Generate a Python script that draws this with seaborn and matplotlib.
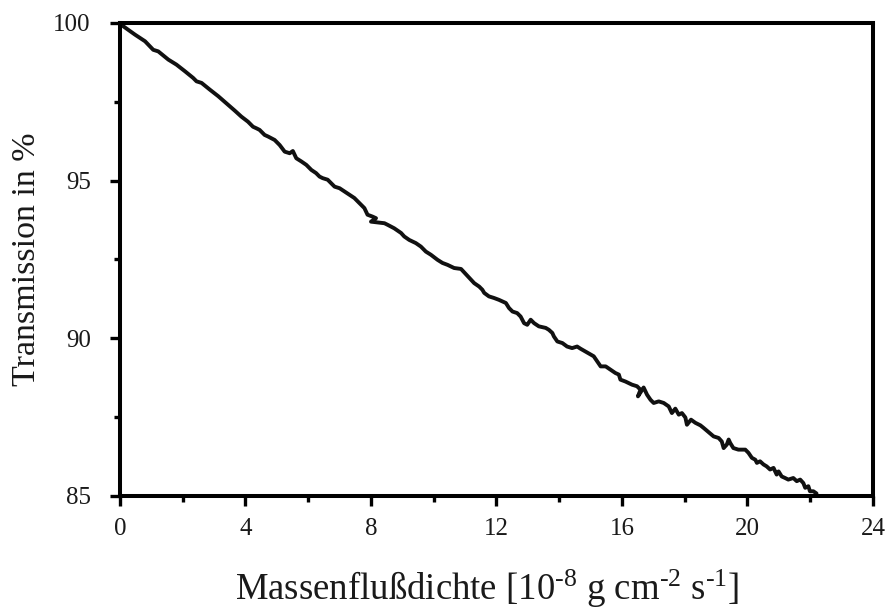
import matplotlib
matplotlib.use("Agg")
import matplotlib.pyplot as plt
from matplotlib.ticker import MultipleLocator
import numpy as np
import pandas as pd
import seaborn as sns

# Mass flux density (1e-8 g cm^-2 s^-1) and measured transmission (%)
flux = [
    0.00, 0.10, 0.48, 0.80, 1.06, 1.22, 1.54, 1.80, 2.07, 2.33, 2.44, 2.60, 2.86, 3.13, 3.44, 3.66,
    3.87, 4.08, 4.24, 4.35, 4.45, 4.61, 4.72, 4.93, 5.09, 5.25, 5.41, 5.51, 5.62, 5.78, 5.94, 6.10,
    6.25, 6.36, 6.46, 6.62, 6.73, 6.84, 7.00,
    7.47, 7.63, 7.79, 7.89, 8.05, 8.16, 8.00, 8.43, 8.53, 8.74, 8.96, 9.06, 9.22, 9.43, 9.59, 9.75,
    9.91, 10.12, 10.28, 10.44, 10.65, 10.87,
    11.29, 11.45, 11.55, 11.61, 11.76, 11.92, 12.08, 12.30, 12.40, 12.51, 12.66, 12.77, 12.88, 12.98,
    13.09, 13.20, 13.35, 13.57, 13.67, 13.78, 13.83, 13.94, 14.10, 14.25, 14.41, 14.57, 14.68,
    15.10, 15.21, 15.32, 15.48, 15.63, 15.79, 15.90, 15.95, 16.11, 16.32, 16.48, 16.59, 16.51, 16.69,
    16.80, 16.91, 17.01, 17.17, 17.33, 17.49, 17.59, 17.70, 17.81, 17.91, 18.02, 18.07, 18.20, 18.34,
    18.50, 18.60,
    18.92, 19.08, 19.18, 19.24, 19.34, 19.40, 19.45, 19.55, 19.71, 19.93, 20.03, 20.14, 20.25, 20.30,
    20.40, 20.51, 20.61, 20.72, 20.83, 20.93, 20.99, 21.09, 21.20, 21.30, 21.46, 21.57, 21.68, 21.78,
    21.84, 21.94, 21.99, 22.10, 22.20,
]
transmission = [
    100.00, 99.90, 99.63, 99.42, 99.15, 99.10, 98.84, 98.68, 98.47, 98.26, 98.15, 98.10, 97.89, 97.68,
    97.41, 97.22,
    97.03, 96.87, 96.71, 96.66, 96.61, 96.45, 96.40, 96.29, 96.13, 95.92, 95.87, 95.94, 95.71, 95.61,
    95.50, 95.34, 95.24, 95.13, 95.08, 95.03, 94.92, 94.81, 94.76,
    94.45, 94.29, 94.13, 93.92, 93.86, 93.81, 93.70, 93.65, 93.60, 93.49, 93.34, 93.23, 93.12, 93.02,
    92.91, 92.75, 92.65, 92.49, 92.39, 92.33, 92.23, 92.20,
    91.75, 91.64, 91.54, 91.44, 91.33, 91.28, 91.22, 91.12, 90.96, 90.85, 90.80, 90.69, 90.48, 90.43,
    90.59, 90.48, 90.38, 90.33, 90.27, 90.17, 90.06, 89.90, 89.85, 89.74, 89.69, 89.74, 89.67,
    89.43, 89.27, 89.11, 89.11, 89.01, 88.90, 88.85, 88.69, 88.63, 88.53, 88.48, 88.37, 88.16, 88.44,
    88.21, 88.05, 87.95, 88.00, 87.95, 87.84, 87.63, 87.77, 87.58, 87.63, 87.49, 87.26, 87.42, 87.32,
    87.24, 87.16,
    86.89, 86.84, 86.73, 86.52, 86.63, 86.79, 86.68, 86.52, 86.47, 86.47, 86.37, 86.21, 86.15, 86.05,
    86.10, 86.00, 85.94, 85.84, 85.89, 85.68, 85.78, 85.62, 85.57, 85.52, 85.57, 85.47, 85.52, 85.41,
    85.26, 85.31, 85.15, 85.15, 85.08,
]

x_ticks = [0, 4, 8, 12, 16, 20, 24]
y_ticks = [85, 90, 95, 100]

sns.set_theme(style="ticks")
plt.rcParams["font.family"] = ["Liberation Serif", "DejaVu Serif"]
plt.rcParams["mathtext.fontset"] = "custom"
plt.rcParams["mathtext.rm"] = "Liberation Serif"
plt.rcParams["mathtext.default"] = "regular"

df = pd.DataFrame({"flux": flux, "transmission": transmission})

fig = plt.figure(figsize=(8.88, 6.10), dpi=100)
ax = fig.add_axes([0.1351, 0.1869, 0.8480, 0.7754])

sns.lineplot(data=df, x="flux", y="transmission", sort=False, estimator=None,
             color="#111111", linewidth=2.8, ax=ax)

ax.set_xlim(0, 24)
ax.set_ylim(85, 100)
ax.set_xticks(x_ticks)
ax.set_yticks(y_ticks)
ax.xaxis.set_minor_locator(MultipleLocator(2))
ax.yaxis.set_minor_locator(MultipleLocator(2.5))

for side in ["left", "right", "top", "bottom"]:
    ax.spines[side].set_visible(True)
    ax.spines[side].set_linewidth(2.9)
    ax.spines[side].set_color("black")

ax.tick_params(axis="both", which="major", direction="out", length=7, width=2.4,
               color="black", labelsize=18, labelcolor="#1a1a1a")
ax.tick_params(axis="x", which="major", pad=9)
ax.tick_params(axis="y", which="major", pad=14)
ax.tick_params(axis="both", which="minor", direction="out", length=4.5, width=2.4,
               color="black")

ax.set_xlabel("Massenflußdichte [10$^{\\mathregular{‐8}}$ g cm$^{\\mathregular{‐2}}$ s$^{\\mathregular{‐1}}$]",
              fontsize=26.5, color="#1a1a1a")
ax.xaxis.set_label_coords(0.487, -0.196, transform=ax.transAxes)
ax.xaxis.label.set_va("center")
ax.set_ylabel("Transmission in %", fontsize=24.5, color="#1a1a1a", labelpad=8)

fig.savefig("out.png", dpi=100)
